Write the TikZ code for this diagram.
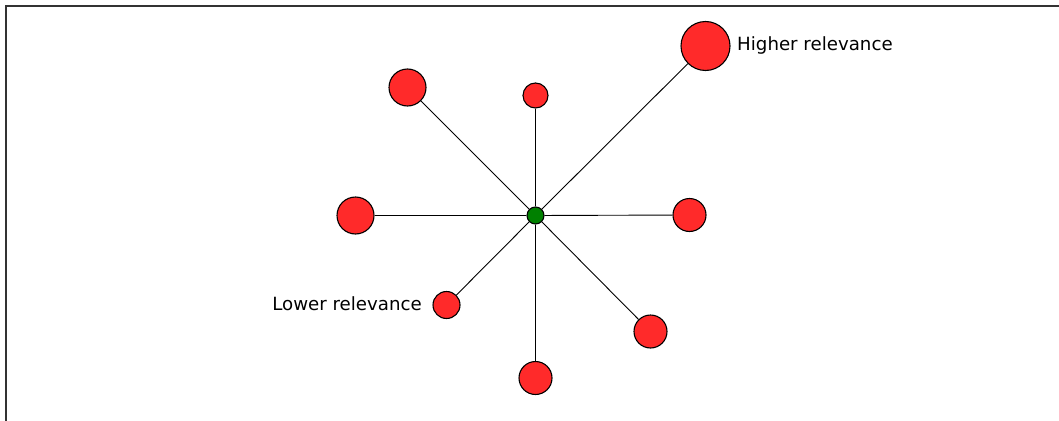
\documentclass[tikz,border=0pt]{standalone}
\usepackage{fontspec}
\setmainfont{DejaVu Sans}
\definecolor{nodered}{HTML}{FF2A2A}
\definecolor{nodegreen}{HTML}{008000}
\begin{document}
\begin{tikzpicture}[x=1pt,y=-1pt,
  leaf/.style={circle,draw=black,line width=1.1pt,fill=nodered,inner sep=0pt,minimum size=#1},
  hub/.style={circle,draw=black,line width=1.1pt,fill=nodegreen,inner sep=0pt,minimum size=17pt},
  spoke/.style={draw=black,line width=0.9pt},
  lbl/.style={font=\fontsize{18.2}{22}\selectfont,inner sep=0pt}]
\useasboundingbox (0,0) rectangle (1059,420);
\draw[line width=1.5pt,black!80] (6,6) rectangle (1080,440);
\node[hub] (c) at (535.5,215.5) {};
\node[leaf=25pt] (n) at (535.5,95.5) {};
\node[leaf=37pt] (nw) at (407.5,87.5) {};
\node[leaf=49pt] (ne) at (705.5,46) {};
\node[leaf=37pt] (w) at (355.5,215.5) {};
\node[leaf=33pt] (e) at (689.5,215) {};
\node[leaf=27pt] (sw) at (446.5,305) {};
\node[leaf=33pt] (se) at (650.5,331.5) {};
\node[leaf=33pt] (s) at (535.5,378) {};
\foreach \t in {n,nw,ne,w,e,sw,se,s} \draw[spoke] (c) -- (\t);
\node[lbl,anchor=west] (hl) at (737,45) {Higher relevance};
\node[lbl,anchor=east] (ll) at (422,304) {Lower relevance};
\end{tikzpicture}
\end{document}
